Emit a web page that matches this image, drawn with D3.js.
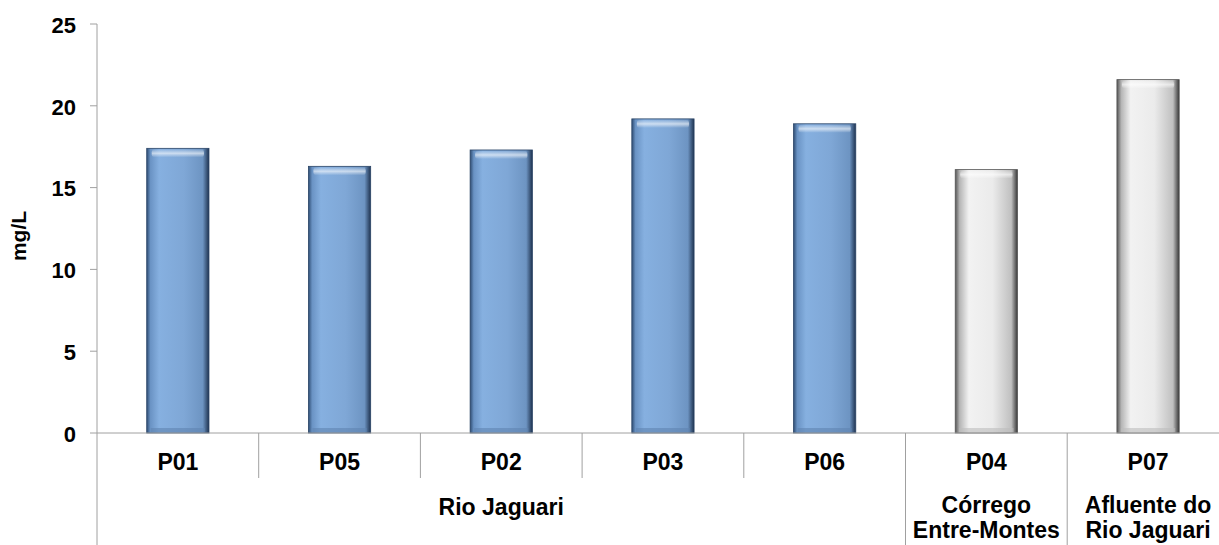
<!DOCTYPE html>
<html lang="pt">
<head>
    <meta charset="UTF-8">
    <title>mg/L por ponto</title>
    <script src="https://cdnjs.cloudflare.com/ajax/libs/d3/7.8.5/d3.min.js"></script>
    <style>
        body { margin: 0; background: #fff; font-family: "Liberation Sans", Arial, sans-serif; }
        svg text { font-weight: bold; fill: #000; }
    </style>
</head>
<body>
    <svg id="chart" width="1219" height="545"></svg>
    <script>
        // Data
        const points = ["P01", "P05", "P02", "P03", "P06", "P04", "P07"];
        const values = [17.4, 16.3, 17.3, 19.2, 18.9, 16.1, 21.6];
        const pointGroup = [0, 0, 0, 0, 0, 1, 2];
        const groups = [["Rio Jaguari"], ["Córrego", "Entre-Montes"], ["Afluente do", "Rio Jaguari"]];
        const yTicks = [0, 5, 10, 15, 20, 25];

        const svg = d3.select("#chart");
        const plotLeft = 97, axisY = 433, plotTop = 24;
        const band = 161.7;
        const fs = "22px", catFs = "23px";

        const x = d3.scaleBand().domain(points)
            .range([plotLeft, plotLeft + band * points.length]).paddingInner(0.615).paddingOuter(0.3075);
        const y = d3.scaleLinear().domain([0, 25]).range([axisY, plotTop]);

        // Gradients for the bevelled bars
        const defs = svg.append("defs");
        function grad(id, stops) {
            const g = defs.append("linearGradient").attr("id", id)
                .attr("x1", "0").attr("x2", "1").attr("y1", "0").attr("y2", "0");
            stops.forEach(s => g.append("stop").attr("offset", s[0]).attr("stop-color", s[1]));
        }
        grad("blueG", [[0, "#2f4d73"], [0.06, "#6a93c4"], [0.2, "#86b0e0"], [0.6, "#7fa7d6"], [0.9, "#6d94c2"], [1, "#1f3350"]]);
        grad("greyG", [[0, "#555"], [0.07, "#b5b5b5"], [0.22, "#f2f2f2"], [0.6, "#ebebeb"], [0.9, "#c0c0c0"], [1, "#383838"]]);
        const topG = defs.append("linearGradient").attr("id", "topG")
            .attr("x1", "0").attr("x2", "0").attr("y1", "0").attr("y2", "1");
        topG.append("stop").attr("offset", 0).attr("stop-color", "#fff").attr("stop-opacity", 0.05);
        topG.append("stop").attr("offset", 0.5).attr("stop-color", "#fff").attr("stop-opacity", 0.6);
        topG.append("stop").attr("offset", 1).attr("stop-color", "#fff").attr("stop-opacity", 0);

        // Bars
        const bars = svg.append("g").selectAll("g").data(points).enter().append("g");
        bars.append("rect")
            .attr("x", d => x(d))
            .attr("y", (d, i) => y(values[i]))
            .attr("width", x.bandwidth())
            .attr("height", (d, i) => axisY - y(values[i]))
            .attr("fill", (d, i) => pointGroup[i] === 0 ? "url(#blueG)" : "url(#greyG)")
            .attr("stroke", (d, i) => pointGroup[i] === 0 ? "#2a4466" : "#555")
            .attr("stroke-width", 0.8);
        // top bevel highlight
        bars.append("rect")
            .attr("x", d => x(d) + 5)
            .attr("y", (d, i) => y(values[i]) + 1)
            .attr("width", x.bandwidth() - 10)
            .attr("height", 8)
            .attr("rx", 3)
            .attr("fill", "url(#topG)");
        // bottom bevel shade
        bars.append("rect")
            .attr("x", d => x(d) + 4)
            .attr("y", axisY - 5)
            .attr("width", x.bandwidth() - 8)
            .attr("height", 4)
            .attr("fill", (d, i) => pointGroup[i] === 0 ? "#5f84b0" : "#bdbdbd")
            .attr("opacity", 0.6);

        // Y axis
        const axisColor = "#a0a0a0";
        svg.append("line").attr("x1", plotLeft).attr("x2", plotLeft).attr("y1", plotTop).attr("y2", 545)
            .attr("stroke", axisColor);
        const yt = svg.append("g").selectAll("g").data(yTicks).enter().append("g");
        yt.append("line").attr("x1", plotLeft - 7).attr("x2", plotLeft)
            .attr("y1", d => y(d)).attr("y2", d => y(d)).attr("stroke", axisColor);
        yt.append("text").attr("x", plotLeft - 21).attr("y", d => y(d) + 1).attr("dy", "0.35em")
            .attr("text-anchor", "end").style("font-size", fs).text(d => d);

        svg.append("text").attr("transform", `translate(26,236) rotate(-90)`)
            .attr("text-anchor", "middle").style("font-size", "21px").text("mg/L");

        // X axis
        svg.append("line").attr("x1", plotLeft).attr("x2", 1219).attr("y1", axisY).attr("y2", axisY)
            .attr("stroke", axisColor);
        points.forEach((p, i) => {
            if (i === 0) return;
            const bx = plotLeft + band * i;
            const groupEdge = pointGroup[i] !== pointGroup[i - 1];
            svg.append("line").attr("x1", bx).attr("x2", bx).attr("y1", axisY)
                .attr("y2", groupEdge ? 545 : 478).attr("stroke", axisColor);
        });
        svg.append("g").selectAll("text").data(points).enter().append("text")
            .attr("x", d => x(d) + x.bandwidth() / 2).attr("y", 470)
            .attr("text-anchor", "middle").style("font-size", catFs).text(d => d);

        // Group labels
        groups.forEach((lines, gi) => {
            const idx = points.filter((p, i) => pointGroup[i] === gi);
            const cx = (x(idx[0]) + x(idx[idx.length - 1]) + x.bandwidth()) / 2;
            const y0 = lines.length === 1 ? 515 : 513;
            lines.forEach((t, li) => {
                svg.append("text").attr("x", cx).attr("y", y0 + li * 25)
                    .attr("text-anchor", "middle").style("font-size", catFs).text(t);
            });
        });
    </script>
</body>
</html>
